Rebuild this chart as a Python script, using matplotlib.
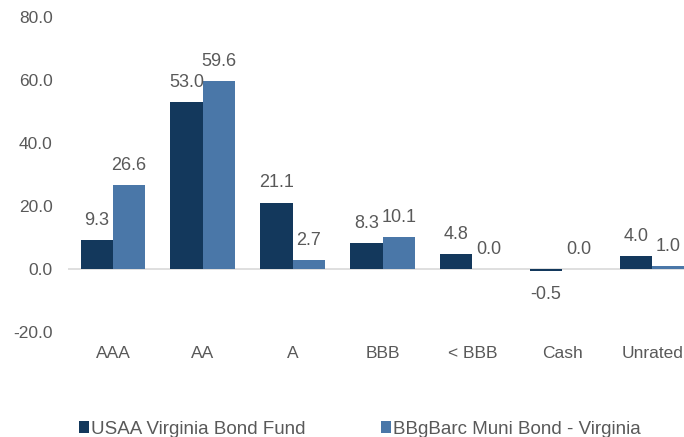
import matplotlib
matplotlib.use("Agg")
from matplotlib import pyplot as plt
import numpy as np

categories = ["AAA", "AA", "A", "BBB", "< BBB", "Cash", "Unrated"]
fund_values = [9.3, 53.0, 21.1, 8.3, 4.8, -0.5, 4.0]
index_values = [26.6, 59.6, 2.7, 10.1, 0.0, 0.0, 1.0]
series_names = ["USAA Virginia Bond Fund", "BBgBarc Muni Bond - Virginia"]
yticks = [-20, 0, 20, 40, 60, 80]

plt.rcParams["font.family"] = ["Liberation Sans", "DejaVu Sans"]
text_color = "#595959"
dark = "#13385c"
light = "#4a77a8"

fig = plt.figure(figsize=(6.84, 4.37), dpi=100)
ax = fig.add_axes([68 / 684, 105 / 437, (697 - 68) / 684, (332 - 17) / 437])

x = np.arange(len(categories))
w = 0.36
b1 = ax.bar(x - w / 2, fund_values, w, color=dark, label=series_names[0])
b2 = ax.bar(x + w / 2, index_values, w, color=light, label=series_names[1])

for bars, vals in ((b1, fund_values), (b2, index_values)):
    for rect, v in zip(bars, vals):
        cx = rect.get_x() + rect.get_width() / 2
        if v < 0:
            ax.annotate(f"{v:.1f}", (cx, v), xytext=(0, -11), textcoords="offset points",
                        ha="center", va="top", fontsize=13, color=text_color)
        else:
            ax.annotate(f"{v:.1f}", (cx, v), xytext=(0, 8), textcoords="offset points",
                        ha="center", va="bottom", fontsize=13, color=text_color)

ax.set_ylim(-20, 80)
ax.set_xlim(-0.5, len(categories) - 0.5)
ax.set_yticks(yticks)
ax.set_yticklabels([f"{t:.1f}" for t in yticks])
ax.set_xticks(x)
ax.set_xticklabels(categories)
ax.tick_params(axis="y", length=0, pad=11, labelsize=12.5, labelcolor=text_color)
ax.tick_params(axis="x", length=0, pad=10, labelsize=12.5, labelcolor=text_color)
for s in ax.spines.values():
    s.set_visible(False)
ax.axhline(0, color="#d9d9d9", lw=1.2, zorder=0)

fig.legend(handles=[b1, b2], loc="lower left", bbox_to_anchor=(62 / 684, -0.04),
           ncol=2, frameon=False, fontsize=13.5, handlelength=0.55, handleheight=0.55,
           handletextpad=0.1, columnspacing=4.0, labelcolor=text_color)

fig.savefig("out.png", dpi=100)
